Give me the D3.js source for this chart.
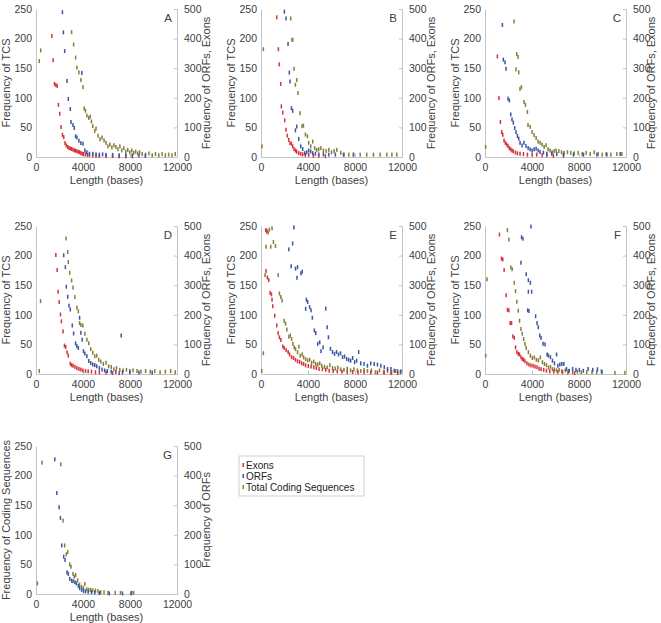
<!DOCTYPE html>
<html>
<head>
<meta charset="utf-8">
<script src="https://cdn.jsdelivr.net/npm/d3@7"></script>
<style>
  body { margin: 0; background: #fff; }
  svg { font-family: "Liberation Sans", Arial, sans-serif; }
</style>
</head>
<body>
<div id="chart"></div>
<script>
// each point is [length in bases, frequency]
// TCS read on left axis (0-250), Exons / ORFs on right axis (0-500)
const xTicks = [0, 4000, 8000, 12000]
const leftTicks = [0, 50, 100, 150, 200, 250]
const rightTicks = [0, 100, 200, 300, 400, 500]
const seriesNames = ["Exons", "ORFs", "Total Coding Sequences"]

const aTCS = [[280,162],[400,180],[3030,211],[3200,190],[3370,168],[3480,151],[3650,143],[3820,130],[4000,118],[4100,82],[4210,78],[4330,70],[4490,66],[4610,68],[4720,60],[4830,52],[5000,44],[5110,48],[5280,36],[5450,30],[5620,33],[5790,28],[5960,24],[6120,18],[6290,21],[6460,16],[6630,20],[6800,17],[6970,13],[7140,18],[7300,11],[7470,15],[7640,9],[7810,12],[7980,8],[8150,11],[8310,7],[8480,9],[8650,6],[8820,8],[9040,5],[9330,4],[9610,6],[9890,3],[10170,5],[10450,3],[10730,5],[11010,3],[11290,4],[11570,3],[11850,5]]
const aExons = [[1350,409],[1460,327],[1570,247],[1690,243],[1800,240],[1910,176],[2020,146],[2130,101],[2250,75],[2360,67],[2470,47],[2580,39],[2700,34],[2810,30],[2920,29],[3030,27],[3150,25],[3260,22],[3370,22],[3480,19],[3600,18],[3710,16],[3820,13],[3930,11],[4040,10],[4210,9],[4380,7],[4550,7],[4830,6],[5110,4],[5390,4],[5960,3],[6520,3],[7080,2],[7640,2],[8200,2]]
const aORFs = [[2250,489],[2330,421],[2440,358],[2640,257],[2750,196],[2920,162],[2980,118],[3150,108],[3260,98],[3370,70],[3480,66],[3650,55],[3820,47],[3900,284],[4000,45],[4160,22],[4330,16],[4550,11],[4830,11],[5110,9],[5390,8],[5670,9],[5960,7],[6520,7],[7080,6],[7640,6],[8200,5],[8760,5],[9300,4]]

const bTCS = [[85,18],[200,182],[2530,234],[2640,198],[2700,198],[2810,149],[2930,122],[3040,130],[3150,108],[3320,74],[3490,52],[3610,53],[3780,38],[3950,35],[4060,24],[4230,18],[4400,26],[4570,15],[4740,12],[4910,13],[5090,15],[5310,11],[5540,10],[5770,12],[6000,8],[6220,10],[6450,12],[6790,7],[7070,4],[7470,4],[7870,4],[8440,4],[9000,4],[9570,4],[10140,4],[10710,4],[11140,4],[11560,4]]
const bExons = [[1340,472],[1480,364],[1560,313],[1680,247],[1730,171],[1850,150],[2020,124],[2130,92],[2240,72],[2360,58],[2470,47],[2590,45],[2700,36],[2810,27],[2930,22],[3040,18],[3210,13],[3380,11],[3550,9],[3780,7],[4060,7],[4460,4],[4910,4],[5480,3]]
const bORFs = [[1990,491],[2130,468],[2300,382],[2410,285],[2470,255],[2590,165],[2700,156],[2930,90],[3040,103],[3210,61],[3380,36],[3550,27],[3720,13],[3890,16],[4060,22],[4230,19],[4400,13],[4630,11],[4910,9],[5310,9],[5770,8],[6330,8],[7020,8],[7870,8]]

const cTCS = [[57,17],[2470,229],[2700,174],[2810,169],[2640,148],[2870,143],[2980,115],[3100,118],[3320,93],[3440,88],[3610,76],[3660,54],[3840,51],[4010,42],[4180,37],[4350,32],[4520,26],[4690,24],[4860,21],[5030,17],[5200,20],[5370,13],[5540,11],[5710,8],[5880,10],[6050,11],[6280,10],[6510,8],[6730,7],[7020,8],[7300,7],[7590,6],[7930,7],[8270,5],[8610,7],[8950,5],[9290,8],[9630,5],[9970,4],[10310,5],[10710,4],[11220,5],[11650,5]]
const cExons = [[1050,340],[1190,199],[1310,118],[1420,84],[1510,75],[1620,56],[1730,48],[1850,42],[1960,37],[2070,30],[2190,26],[2300,22],[2410,19],[2590,15],[2760,12],[2980,11],[3270,10],[3610,8],[4010,8],[4400,8],[4860,6],[5260,6],[5820,4],[6680,4]]
const cORFs = [[1480,446],[1560,329],[1700,320],[1790,298],[1960,197],[2070,191],[2190,144],[2300,127],[2410,116],[2530,98],[2640,84],[2760,71],[2870,62],[2980,48],[3150,39],[3320,48],[3490,37],[3670,30],[3840,26],[4010,22],[4180,26],[4350,28],[4520,22],[4690,17],[4970,15],[5260,11],[5680,11],[6110,10],[6680,9],[7530,8],[8380,8],[9520,8],[10370,8],[11510,10]]

const dTCS = [[280,5],[390,123],[2560,229],[2700,206],[2750,189],[2870,171],[3030,158],[3150,146],[3310,130],[3480,112],[3600,106],[3710,86],[3820,83],[3990,82],[4160,68],[4330,58],[4490,52],[4660,42],[4830,36],[5000,30],[5170,31],[5340,24],[5510,21],[5730,17],[5960,19],[6180,13],[6400,12],[6630,8],[6850,10],[7130,7],[7420,6],[7700,7],[7980,5],[8260,6],[8600,5],[8930,4],[9330,5],[9720,4],[10110,5],[10560,3],[11010,4],[11460,5],[11850,3]]
const dExons = [[1690,402],[1800,351],[1880,278],[1970,243],[2080,201],[2160,178],[2300,144],[2420,96],[2530,91],[2640,73],[2750,62],[2920,35],[3030,30],[3150,28],[3310,24],[3480,20],[3650,17],[3820,15],[3990,12],[4210,10],[4440,9],[4720,8],[5060,6],[5390,6],[5960,5],[6520,3],[7080,3]]
const dORFs = [[2360,401],[2500,361],[2580,295],[2700,261],[2810,231],[2920,218],[3090,164],[3200,137],[3370,103],[3480,94],[3600,88],[3710,190],[3820,139],[3930,116],[4040,77],[4160,69],[4330,60],[4490,44],[4660,37],[4830,32],[5000,30],[5170,26],[5390,20],[5620,15],[5840,12],[6070,10],[6400,8],[6800,7],[7250,130],[7360,6],[7980,6],[8760,5],[9890,5]]

const eTCS = [[60,5],[200,35],[340,167],[430,215],[490,242],[600,239],[710,244],[830,215],[940,246],[1060,223],[1230,216],[1460,167],[1570,136],[1690,130],[1800,124],[1970,90],[2090,85],[2200,75],[2370,63],[2490,65],[2600,59],[2710,51],[2830,45],[2940,42],[3110,37],[3230,46],[3340,31],[3510,33],[3630,28],[3800,25],[3970,23],[4140,24],[4310,19],[4490,21],[4660,17],[4830,16],[5000,18],[5170,14],[5400,12],[5630,11],[5860,15],[6090,10],[6310,9],[6540,11],[6770,8],[7060,7],[7340,9],[7630,6],[7910,8],[8200,6],[8490,5],[8770,7],[9060,5],[9400,6],[9740,3],[10090,6],[10430,3],[10770,5],[11110,3],[11460,5],[11860,3]]
const eExons = [[400,486],[490,481],[430,348],[540,326],[660,317],[770,274],[890,269],[940,251],[1000,229],[1170,197],[1340,164],[1460,138],[1570,124],[1690,115],[1860,93],[1970,88],[2140,81],[2310,74],[2430,66],[2600,57],[2770,54],[2940,48],[3110,43],[3290,41],[3460,36],[3630,34],[3800,29],[4030,27],[4260,25],[4490,23],[4710,20],[4940,17],[5230,16],[5510,14],[5800,11],[6140,10],[6490,9],[6890,8],[7340,7],[7800,7],[8260,6],[8770,6],[9340,5],[9910,5],[10490,5],[11060,3],[11630,3]]
const eORFs = [[2800,495],[2370,421],[2690,441],[2570,364],[2940,356],[3060,325],[3110,361],[3510,346],[3400,340],[3860,251],[3970,243],[4140,226],[4260,215],[3800,220],[4370,190],[4540,147],[4660,138],[4830,102],[5000,107],[5110,77],[5290,90],[5510,221],[5630,158],[5740,124],[5910,85],[6090,74],[6260,68],[6430,74],[6600,66],[6770,70],[6940,57],[7110,59],[7290,51],[7460,48],[7630,45],[7800,54],[7970,40],[8140,45],[8310,74],[8490,36],[8770,34],[9060,28],[9340,36],[9630,34],[9910,32],[10200,28],[10490,23],[10770,17],[11060,17],[11340,11],[11630,9],[11910,9]]

const fTCS = [[60,31],[170,160],[1910,243],[2030,227],[2200,180],[2310,177],[2490,154],[2600,140],[2710,122],[2830,107],[2940,90],[3060,76],[3170,68],[3290,59],[3400,51],[3510,44],[3690,37],[3860,31],[4030,27],[4200,28],[4370,24],[4540,23],[4710,28],[4890,20],[5060,17],[5230,15],[5400,11],[5570,12],[5740,8],[5910,8],[6090,6],[6310,7],[6540,5],[6830,6],[7110,5],[7460,3],[7860,4],[8200,3],[8660,3],[9110,3],[9510,3],[9970,3],[11060,2],[11910,2]]
const fExons = [[1230,471],[1400,390],[1510,387],[1630,351],[1800,266],[1910,217],[2030,215],[2140,172],[2260,172],[2370,127],[2490,122],[2600,90],[2710,74],[2830,68],[2940,66],[3060,57],[3170,51],[3290,48],[3400,43],[3570,36],[3740,32],[3910,29],[4090,28],[4260,25],[4430,23],[4600,18],[4770,16],[5000,14],[5230,11],[5510,9],[5860,8],[6200,7],[6600,6],[7060,5],[7630,3]]
const fORFs = [[3910,498],[3110,462],[3230,457],[3060,376],[3510,337],[3690,317],[3860,308],[3690,278],[3970,278],[3630,215],[3740,213],[4310,195],[4430,172],[4540,158],[4660,130],[4770,122],[4940,102],[5110,100],[5290,66],[5400,62],[5570,57],[5740,45],[5910,36],[6090,66],[6200,28],[6370,32],[6540,34],[6710,34],[6940,17],[7170,11],[7460,17],[7740,14],[8030,14],[8370,11],[8770,17],[9170,14],[9570,16],[9910,9]]

const gTCS = [[110,18],[510,222],[2110,219],[2300,124],[2440,82],[2580,67],[2700,71],[2870,50],[2980,46],[3150,34],[3260,29],[3370,32],[3540,23],[3710,16],[3880,12],[4040,10],[4160,17],[4330,8],[4490,7],[4660,7],[4830,6],[5060,6],[5280,5],[5510,3],[5790,3],[6120,2],[6740,2],[7190,2],[8150,2],[8310,2]]
const gORFs = [[1600,455],[1770,341],[1970,293],[2080,257],[2190,164],[2360,126],[2470,115],[2640,73],[2750,68],[2870,51],[3030,45],[3150,43],[3310,40],[3430,36],[3600,28],[3710,20],[3880,14],[4040,11],[4210,9],[4440,7],[4720,6],[5000,5],[5390,3],[6240,2],[7360,2],[8090,2]]

const colors = { "Exons": "#d5323c", "ORFs": "#3a56a6", "Total Coding Sequences": "#857e36" }

const panels = [
  { id: "A", col: 0, row: 0, tcs: aTCS, exons: aExons, orfs: aORFs },
  { id: "B", col: 1, row: 0, tcs: bTCS, exons: bExons, orfs: bORFs },
  { id: "C", col: 2, row: 0, tcs: cTCS, exons: cExons, orfs: cORFs },
  { id: "D", col: 0, row: 1, tcs: dTCS, exons: dExons, orfs: dORFs },
  { id: "E", col: 1, row: 1, tcs: eTCS, exons: eExons, orfs: eORFs },
  { id: "F", col: 2, row: 1, tcs: fTCS, exons: fExons, orfs: fORFs },
  { id: "G", col: 0, row: 2, tcs: gTCS, exons: null, orfs: gORFs,
    leftLabel: "Frequency of Coding Sequences", rightLabel: "Frequency of ORFs" }
]

const width = 661, height = 623
const colX = [36, 261, 485]
const rowY = [9, 226, 446]
const pw = 141, ph = 148

const svg = d3.select("#chart").append("svg")
  .attr("width", width)
  .attr("height", height)

const axisColor = "#c4c4c4"
const textColor = "#404040"

panels.forEach(function (p) {
  const g = svg.append("g")
    .attr("transform", "translate(" + colX[p.col] + "," + rowY[p.row] + ")")

  const x = d3.scaleLinear().domain([0, 12000]).range([0, pw])
  const yL = d3.scaleLinear().domain([0, 250]).range([ph, 0])
  const yR = d3.scaleLinear().domain([0, 500]).range([ph, 0])

  // axes
  const xAxis = g.append("g").attr("transform", "translate(0," + ph + ")")
    .call(d3.axisBottom(x).tickValues(xTicks).tickSize(-3).tickPadding(7).tickFormat(d3.format("d")))
  const lAxis = g.append("g")
    .call(d3.axisLeft(yL).tickValues(leftTicks).tickSize(0).tickPadding(4))
  const rAxis = g.append("g").attr("transform", "translate(" + pw + ",0)")
    .call(d3.axisRight(yR).tickValues(rightTicks).tickSize(-3).tickPadding(7))

  ;[xAxis, lAxis, rAxis].forEach(function (a) {
    a.select(".domain").attr("stroke", axisColor)
    a.selectAll(".tick line").attr("stroke", axisColor)
    a.selectAll("text").attr("fill", textColor).attr("font-size", 10.5)
      .attr("font-family", "Liberation Sans, Arial, sans-serif")
  })

  // axis titles
  g.append("text")
    .attr("x", pw / 2).attr("y", ph + 27)
    .attr("text-anchor", "middle").attr("font-size", 11).attr("fill", textColor)
    .text("Length (bases)")

  g.append("text")
    .attr("transform", "translate(-26," + (ph / 2) + ")rotate(-90)")
    .attr("text-anchor", "middle").attr("font-size", 11).attr("fill", textColor)
    .text(p.leftLabel || "Frequency of TCS")

  // keep the right title inside the page for the last column
  const rx = Math.min(pw + 33, width - 6 - colX[p.col])
  g.append("text")
    .attr("transform", "translate(" + rx + "," + (ph / 2) + ")rotate(-90)")
    .attr("text-anchor", "middle").attr("font-size", 11).attr("fill", textColor)
    .text(p.rightLabel || "Frequency of ORFs, Exons")

  g.append("text")
    .attr("x", pw - 5).attr("y", 13)
    .attr("text-anchor", "end").attr("font-size", 11.5).attr("fill", textColor)
    .text(p.id)

  // dash markers
  function dashes(data, yScale, color) {
    g.append("g").selectAll("rect")
      .data(data)
      .enter().append("rect")
      .attr("x", function (d) { return x(d[0]) - 0.75 })
      .attr("y", function (d) { return yScale(d[1]) - 2 })
      .attr("width", 1.5)
      .attr("height", 4)
      .attr("fill", color)
  }

  dashes(p.tcs, yL, colors["Total Coding Sequences"])
  if (p.exons) dashes(p.exons, yR, colors["Exons"])
  dashes(p.orfs, yR, colors["ORFs"])
})

// legend
const legend = svg.append("g").attr("transform", "translate(239,456)")
legend.append("rect")
  .attr("width", 125).attr("height", 40)
  .attr("fill", "#fff").attr("stroke", "#cfcfcf")

seriesNames.forEach(function (name, i) {
  const row = legend.append("g").attr("transform", "translate(0," + (9 + i * 11) + ")")
  row.append("rect")
    .attr("x", 3.5).attr("y", -2).attr("width", 1.5).attr("height", 4)
    .attr("fill", colors[name])
  row.append("text")
    .attr("x", 7).attr("y", 4)
    .attr("font-size", 10).attr("fill", "#222")
    .text(name)
})
</script>
</body>
</html>
